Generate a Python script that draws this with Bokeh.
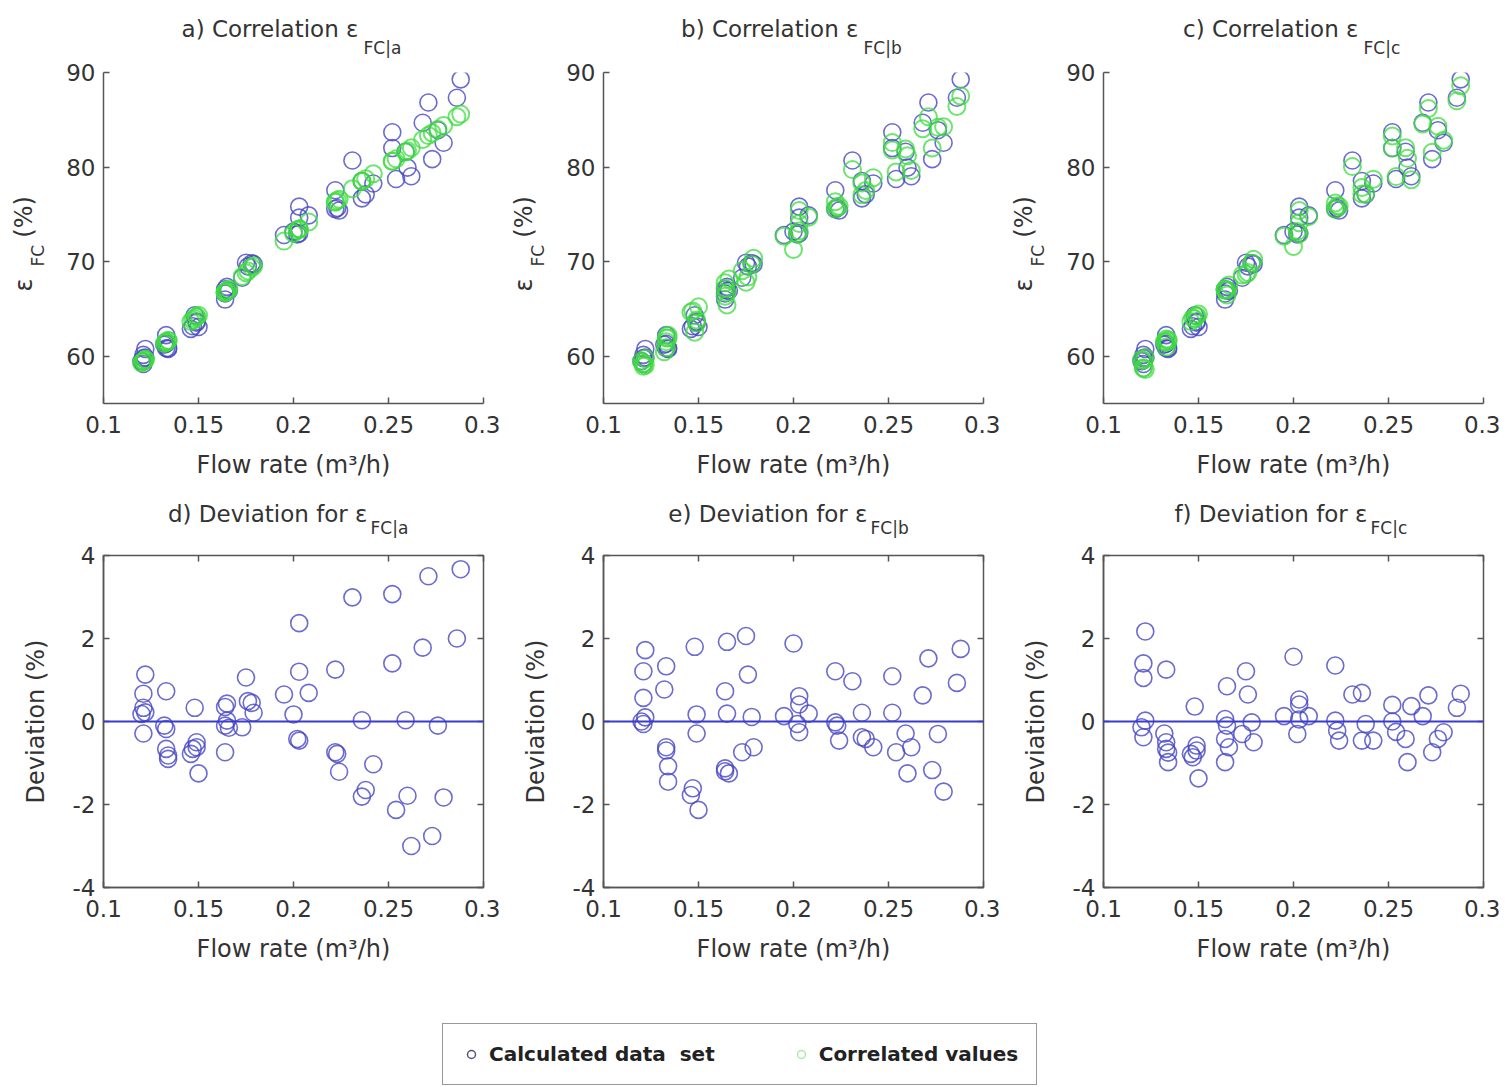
from bokeh.plotting import figure
from bokeh.models import (Range1d, FixedTicker, Title, Span, LinearAxis,
                          Legend, LegendItem, ColumnDataSource)
from bokeh.layouts import column, row
from bokeh.embed import file_html
from bokeh.resources import INLINE

# ---------------- data ----------------
flow = [0.122, 0.121, 0.121, 0.122, 0.120, 0.121,
        0.133, 0.132, 0.133, 0.133, 0.134, 0.134,
        0.148, 0.149, 0.149, 0.147, 0.146, 0.150,
        0.165, 0.164, 0.165, 0.164, 0.166, 0.164,
        0.175, 0.176, 0.178, 0.179, 0.173,
        0.195, 0.200, 0.203, 0.203, 0.202, 0.203, 0.208,
        0.222, 0.222, 0.223, 0.224,
        0.231, 0.236, 0.236, 0.238, 0.242,
        0.252, 0.252, 0.254, 0.259, 0.260, 0.262,
        0.268, 0.271, 0.273, 0.276, 0.279,
        0.286, 0.288]

calc = [60.77, 60.14, 59.80, 59.86, 59.48, 59.18,
        62.23, 61.23, 61.32, 60.84, 60.85, 60.77,
        64.33, 63.67, 63.55, 63.17, 62.89, 63.09,
        67.33, 67.08, 66.92, 66.63, 66.92, 65.99,
        69.88, 69.50, 69.82, 69.74, 68.30,
        72.82, 73.17, 74.65, 75.82, 72.88, 72.99, 74.89,
        77.55, 75.56, 75.68, 75.40,
        80.70, 78.53, 76.69, 77.11, 78.26,
        83.68, 82.01, 78.74, 81.62, 79.94, 79.03,
        84.69, 86.83, 80.84, 83.90, 82.57,
        87.33, 89.27]

corr_a = [59.64, 59.47, 59.47, 59.64, 59.30, 59.47,
          61.50, 61.33, 61.50, 61.50, 61.67, 61.67,
          64.00, 64.17, 64.17, 63.83, 63.67, 64.34,
          66.90, 66.73, 66.90, 66.73, 67.07, 66.73,
          68.82, 69.01, 69.37, 69.53, 68.44,
          72.17, 73.00, 73.45, 73.45, 73.30, 73.45, 74.20,
          76.30, 76.30, 76.46, 76.61,
          77.71, 78.50, 78.50, 78.76, 79.29,
          80.61, 80.61, 80.87, 81.59, 81.73, 82.03,
          82.91, 83.33, 83.60, 84.00, 84.40,
          85.33, 85.60]

corr_b = [59.05, 58.93, 59.23, 59.76, 59.48, 59.24,
          60.90, 60.46, 61.94, 61.54, 61.93, 62.22,
          62.53, 63.50, 63.84, 64.78, 64.66, 65.22,
          65.41, 66.35, 66.73, 67.76, 68.17, 67.19,
          67.82, 68.37, 69.71, 70.36, 69.04,
          72.69, 71.29, 74.04, 75.41, 72.94, 73.25, 74.70,
          76.34, 75.58, 75.78, 75.86,
          79.73, 78.32, 77.07, 77.53, 78.88,
          82.59, 81.80, 79.48, 81.91, 81.19, 79.65,
          84.06, 85.31, 82.01, 84.20, 84.26,
          86.40, 87.52]

corr_c = [58.60, 58.74, 58.75, 59.84, 59.62, 59.56,
          60.98, 61.52, 61.82, 61.50, 61.60, 61.75,
          63.97, 64.25, 64.25, 64.03, 63.67, 64.46,
          66.48, 67.02, 67.02, 67.05, 67.54, 66.97,
          68.67, 68.85, 69.84, 70.24, 68.60,
          72.69, 71.61, 74.12, 75.41, 73.18, 72.94, 74.76,
          76.20, 75.54, 75.90, 75.86,
          80.05, 77.84, 77.15, 77.17, 78.72,
          83.28, 82.01, 78.99, 82.04, 80.92, 78.66,
          84.56, 86.20, 81.58, 84.32, 82.83,
          87.00, 88.60]

dev_a = [1.13, 0.67, 0.33, 0.22, 0.18, -0.29,
         0.73, -0.10, -0.18, -0.66, -0.82, -0.90,
         0.33, -0.50, -0.62, -0.66, -0.78, -1.25,
         0.43, 0.35, 0.02, -0.10, -0.15, -0.74,
         1.06, 0.49, 0.45, 0.21, -0.14,
         0.65, 0.17, 1.20, 2.37, -0.42, -0.46, 0.69,
         1.25, -0.74, -0.78, -1.21,
         2.99, 0.03, -1.81, -1.65, -1.03,
         3.07, 1.40, -2.13, 0.03, -1.79, -3.00,
         1.78, 3.50, -2.76, -0.10, -1.83,
         2.00, 3.67]

dev_b = [1.72, 1.21, 0.57, 0.10, 0.00, -0.06,
         1.33, 0.77, -0.62, -0.70, -1.08, -1.45,
         1.80, 0.17, -0.29, -1.61, -1.77, -2.13,
         1.92, 0.73, 0.19, -1.13, -1.25, -1.20,
         2.06, 1.13, 0.11, -0.62, -0.74,
         0.13, 1.88, 0.61, 0.41, -0.06, -0.26, 0.19,
         1.21, -0.02, -0.10, -0.46,
         0.97, 0.21, -0.38, -0.42, -0.62,
         1.09, 0.21, -0.74, -0.29, -1.25, -0.62,
         0.63, 1.52, -1.17, -0.30, -1.69,
         0.93, 1.75]

dev_c = [2.17, 1.40, 1.05, 0.02, -0.14, -0.38,
         1.25, -0.29, -0.50, -0.66, -0.75, -0.98,
         0.36, -0.58, -0.70, -0.86, -0.78, -1.37,
         0.85, 0.06, -0.10, -0.42, -0.62, -0.98,
         1.21, 0.65, -0.02, -0.50, -0.30,
         0.13, 1.56, 0.53, 0.41, -0.30, 0.05, 0.13,
         1.35, 0.02, -0.22, -0.46,
         0.65, 0.69, -0.46, -0.06, -0.46,
         0.40, 0.00, -0.25, -0.42, -0.98, 0.37,
         0.13, 0.63, -0.74, -0.42, -0.26,
         0.33, 0.67]

x_ticks = [0.1, 0.15, 0.2, 0.25, 0.3]
x_tick_labels = ["0.1", "0.15", "0.2", "0.25", "0.3"]
top_y_ticks = [60, 70, 80, 90]
top_y_tick_labels = ["60", "70", "80", "90"]
dev_ticks = [-4, -2, 0, 2, 4]
dev_tick_labels = ["-4", "-2", "0", "2", "4"]

panel_letters_top = ["a", "b", "c"]
panel_letters_bottom = ["d", "e", "f"]
subs = ["a", "b", "c"]
x_title = "Flow rate (m³/h)"
legend_labels = ["Calculated data  set", "Correlated values"]

# ---------------- style ----------------
FONT = "DejaVu Sans"
TXT = "#333333"
AX = "#555555"
BLUE = "#4646c4"
GREEN = "#3ddc3d"


def style_axis(ax, ticks, labels, standoff):
    ax.ticker = FixedTicker(ticks=ticks)
    ax.major_label_overrides = dict(zip(ticks, labels))
    ax.major_label_text_font = FONT
    ax.major_label_text_font_size = "23px"
    ax.major_label_text_color = TXT
    ax.major_label_standoff = standoff
    ax.axis_line_color = AX
    ax.axis_line_width = 1.5
    ax.major_tick_line_color = AX
    ax.major_tick_line_width = 1.5
    ax.major_tick_in = 6
    ax.major_tick_out = 0
    ax.minor_tick_line_color = None
    ax.axis_label_text_font = FONT
    ax.axis_label_text_font_size = "24px"
    ax.axis_label_text_font_style = "normal"
    ax.axis_label_text_color = TXT


def add_title(p, text, loc, size, align, offset, standoff):
    p.add_layout(Title(text=text, align=align, offset=offset, standoff=standoff,
                       text_font=FONT, text_font_size=size,
                       text_font_style="normal", text_color=TXT), loc)


def base_fig(frame_h, top, bottom, yr):
    p = figure(width=500, height=top + frame_h + bottom, title=None,
               frame_width=380, frame_height=frame_h,
               min_border_left=103, min_border_right=17,
               min_border_top=top, min_border_bottom=bottom,
               x_range=Range1d(0.1, 0.3), y_range=yr,
               output_backend="svg", toolbar_location=None, tools="")
    p.grid.visible = False
    p.background_fill_color = "white"
    p.border_fill_color = "white"
    style_axis(p.xaxis[0], x_ticks, x_tick_labels, 12)
    p.xaxis[0].axis_label = x_title
    p.xaxis[0].axis_label_standoff = 15
    return p


def top_panel(corr, letter, sub):
    p = base_fig(331, 72, 92, Range1d(55, 90))
    style_axis(p.yaxis[0], top_y_ticks, top_y_tick_labels, 8)
    p.outline_line_color = None
    src = ColumnDataSource(dict(x=flow, calc=calc, corr=corr))
    p.scatter("x", "calc", source=src, marker="circle", size=17,
              fill_color=None, line_color=BLUE, line_width=1.6, line_alpha=0.8)
    p.scatter("x", "corr", source=src, marker="circle", size=17,
              fill_color=None, line_color=GREEN, line_width=2.0, line_alpha=0.75)
    # title: subscript part first (closest to frame), then main part
    add_title(p, f"FC|{sub}", "above", "17px", "left", 260, 30)
    add_title(p, f"{letter}) Correlation ε", "above", "23px", "right", 125, -43)
    # y label: subscript first (closest), then main part
    add_title(p, "FC", "left", "17px", "left", 137, 31)
    add_title(p, "ε\u2003\u2002\u2009(%)", "left", "24px", "left", 112, -54)
    return p


def bottom_panel(dev, letter, sub):
    p = base_fig(332, 60, 100, Range1d(-4, 4))
    style_axis(p.yaxis[0], dev_ticks, dev_tick_labels, 8)
    p.yaxis[0].axis_label = "Deviation (%)"
    p.yaxis[0].axis_label_standoff = 20
    p.outline_line_color = AX
    p.outline_line_width = 1.5
    for loc, ticks in (("right", dev_ticks), ("above", x_ticks)):
        ax = LinearAxis()
        style_axis(ax, ticks, [""] * len(ticks), 0)
        ax.major_label_text_font_size = "0px"
        ax.major_label_text_alpha = 0
        ax.axis_line_color = None
        p.add_layout(ax, loc)
    p.add_layout(Span(location=0, dimension="width", line_color="#3a3ad0",
                      line_width=2))
    src = ColumnDataSource(dict(x=flow, dev=dev))
    p.scatter("x", "dev", source=src, marker="circle", size=17,
              fill_color=None, line_color=BLUE, line_width=1.6, line_alpha=0.8)
    add_title(p, f"FC|{sub}", "above", "17px", "left", 267, 35)
    add_title(p, f"{letter}) Deviation for ε", "above", "23px", "right", 116, -57)
    return p


tops = [top_panel(c, l, s) for c, l, s in zip([corr_a, corr_b, corr_c], panel_letters_top, subs)]
bots = [bottom_panel(d, l, s) for d, l, s in zip([dev_a, dev_b, dev_c], panel_letters_bottom, subs)]

# legend strip (real renderers, ranges chosen so that the points stay out of view)
pl = figure(width=1500, height=100, x_range=Range1d(10, 11), y_range=Range1d(10, 11),
            min_border=0, x_axis_location=None, y_axis_location=None, title=None,
            output_backend="svg", toolbar_location=None, tools="")
pl.grid.visible = False
pl.outline_line_color = None
lsrc = ColumnDataSource(dict(x=flow, calc=calc, corr=corr_a))
r1 = pl.scatter("x", "calc", source=lsrc, marker="circle", size=11, fill_color=None,
                line_color="#55557a", line_width=1.5)
r2 = pl.scatter("x", "corr", source=lsrc, marker="circle", size=11, fill_color=None,
                line_color="#a6eaa6", line_width=1.5)
leg = Legend(items=[LegendItem(label=legend_labels[0], renderers=[r1]),
                    LegendItem(label=legend_labels[1], renderers=[r2])],
             orientation="horizontal", location=(442, 2))
leg.label_text_font = FONT
leg.label_text_font_size = "20px"
leg.label_text_font_style = "bold"
leg.label_text_color = "#222222"
leg.border_line_color = "#333333"
leg.border_line_width = 1.5
leg.padding = 18
leg.margin = 0
leg.spacing = 76
leg.label_standoff = 8
leg.glyph_width = 20
leg.glyph_height = 20
pl.add_layout(leg, "center")

layout = column(row(*tops), row(*bots), pl)
open("out.html", "w").write(file_html(layout, INLINE))
